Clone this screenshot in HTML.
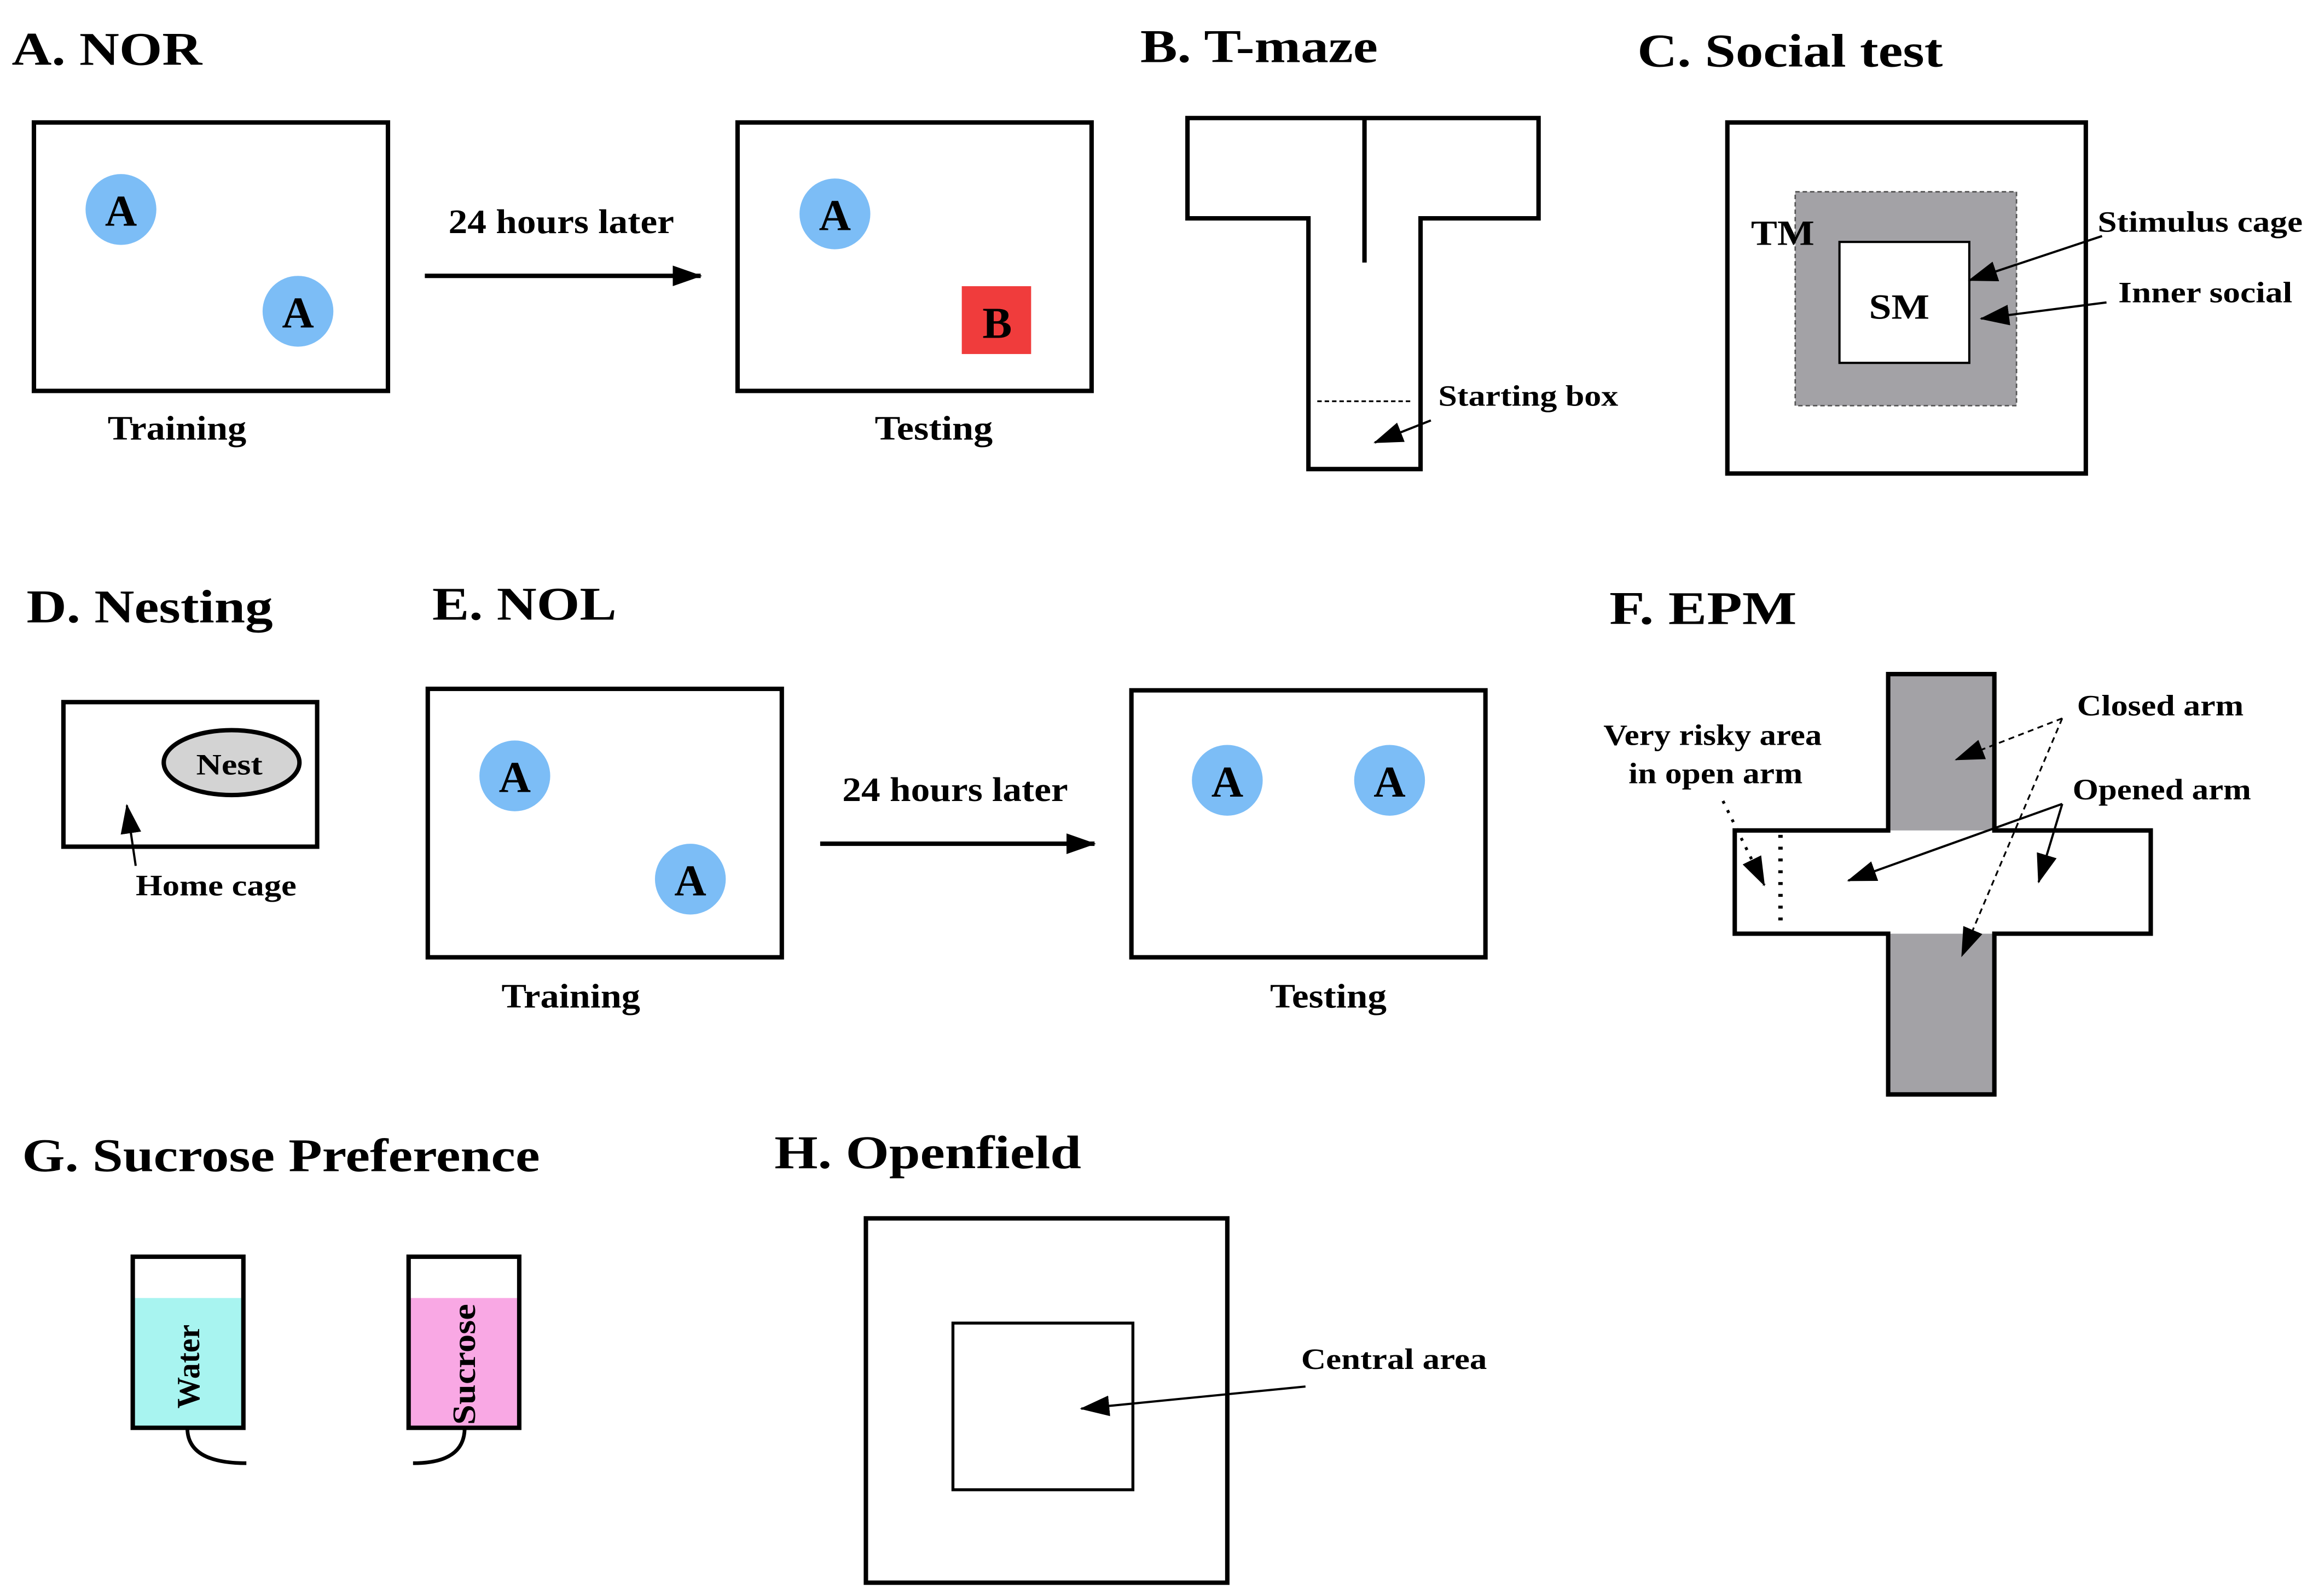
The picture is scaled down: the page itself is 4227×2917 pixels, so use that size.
<!DOCTYPE html>
<html><head><meta charset="utf-8"><style>html,body{margin:0;padding:0;background:#fff}svg{display:block}</style></head><body>
<svg width="4227" height="2917" viewBox="0 0 1568 1082" xmlns="http://www.w3.org/2000/svg" font-family="'Liberation Serif', serif" font-weight="bold">
<defs>
<marker id="ahb" markerWidth="20" markerHeight="14" refX="19" refY="7" orient="auto" markerUnits="userSpaceOnUse"><path d="M0,0 L20,7 L0,14 Z" fill="#000"/></marker>
</defs>
<rect width="1568" height="1082" fill="#fff"/>
<g font-size="32" lengthAdjust="spacingAndGlyphs">
<text x="8" y="44" textLength="129" lengthAdjust="spacingAndGlyphs">A. NOR</text>
<text x="773" y="42" textLength="161" lengthAdjust="spacingAndGlyphs">B. T-maze</text>
<text x="1110" y="45" textLength="207" lengthAdjust="spacingAndGlyphs">C. Social test</text>
<text x="18" y="422" textLength="167" lengthAdjust="spacingAndGlyphs">D. Nesting</text>
<text x="293" y="420" textLength="125" lengthAdjust="spacingAndGlyphs">E. NOL</text>
<text x="1091" y="423" textLength="127" lengthAdjust="spacingAndGlyphs">F. EPM</text>
<text x="15" y="794" textLength="351" lengthAdjust="spacingAndGlyphs">G. Sucrose Preference</text>
<text x="525" y="792" textLength="208" lengthAdjust="spacingAndGlyphs">H. Openfield</text>
</g>
<g fill="none" stroke="#000" stroke-width="3">
<rect x="23" y="83" width="240" height="182"/>
<rect x="500" y="83" width="240" height="182"/>
<rect x="290" y="467" width="240" height="182"/>
<rect x="767" y="468" width="240" height="181"/>
<rect x="43" y="476" width="172" height="98"/>
<rect x="1171" y="83" width="243" height="238"/>
<rect x="587" y="826" width="245" height="247"/>
</g>
<g fill="#7cbdf6">
<circle cx="82" cy="142" r="24"/><circle cx="202" cy="211" r="24"/><circle cx="566" cy="145" r="24"/>
<circle cx="349" cy="526" r="24"/><circle cx="468" cy="596" r="24"/><circle cx="832" cy="529" r="24"/><circle cx="942" cy="529" r="24"/>
</g>
<rect x="652" y="194" width="47" height="46" fill="#f03c3c"/>
<g font-size="30" text-anchor="middle">
<text x="82" y="153">A</text><text x="202" y="222">A</text><text x="566" y="156">A</text><text x="676" y="229">B</text>
<text x="349" y="537">A</text><text x="468" y="607">A</text><text x="832" y="540">A</text><text x="942" y="540">A</text>
</g>
<g font-size="23">
<text x="73" y="298" textLength="94" lengthAdjust="spacingAndGlyphs">Training</text>
<text x="593" y="298" textLength="80" lengthAdjust="spacingAndGlyphs">Testing</text>
<text x="304" y="158" textLength="153" lengthAdjust="spacingAndGlyphs">24 hours later</text>
<text x="571" y="543" textLength="153" lengthAdjust="spacingAndGlyphs">24 hours later</text>
<text x="340" y="683" textLength="94" lengthAdjust="spacingAndGlyphs">Training</text>
<text x="861" y="683" textLength="79" lengthAdjust="spacingAndGlyphs">Testing</text>
</g>
<line x1="288" y1="187" x2="475" y2="187" stroke="#000" stroke-width="3" marker-end="url(#ahb)"/>
<line x1="556" y1="572" x2="742" y2="572" stroke="#000" stroke-width="3" marker-end="url(#ahb)"/>
<!-- T-maze -->
<path d="M805,80 L1043,80 L1043,148 L963,148 L963,318 L887,318 L887,148 L805,148 Z" fill="none" stroke="#000" stroke-width="3"/>
<line x1="925" y1="80" x2="925" y2="178" stroke="#000" stroke-width="3"/>
<line x1="893" y1="272" x2="958" y2="272" stroke="#000" stroke-width="1.2" stroke-dasharray="3,2"/>
<text x="975" y="275" font-size="20" textLength="122" lengthAdjust="spacingAndGlyphs">Starting box</text>
<line x1="970" y1="285" x2="932" y2="300" stroke="#000" stroke-width="1.5" marker-end="url(#ahb)"/>
<!-- Social -->
<rect x="1217" y="130" width="150" height="145" fill="#a3a2a6" stroke="#555" stroke-width="1" stroke-dasharray="3,2"/>
<rect x="1247" y="164" width="88" height="82" fill="#fff" stroke="#000" stroke-width="1.5"/>
<text x="1267" y="216" font-size="24" textLength="41" lengthAdjust="spacingAndGlyphs">SM</text>
<text x="1187" y="166" font-size="24" textLength="43" lengthAdjust="spacingAndGlyphs">TM</text>
<text x="1422" y="157" font-size="20" textLength="139" lengthAdjust="spacingAndGlyphs">Stimulus cage</text>
<text x="1436" y="205" font-size="20" textLength="118" lengthAdjust="spacingAndGlyphs">Inner social</text>
<line x1="1425" y1="160" x2="1335" y2="190" stroke="#000" stroke-width="1.5" marker-end="url(#ahb)"/>
<line x1="1428" y1="205" x2="1343" y2="216" stroke="#000" stroke-width="1.5" marker-end="url(#ahb)"/>
<!-- Nesting -->
<ellipse cx="157" cy="517" rx="46" ry="22" fill="#d3d3d3" stroke="#000" stroke-width="3"/>
<text x="133" y="525" font-size="20" textLength="45" lengthAdjust="spacingAndGlyphs">Nest</text>
<line x1="92" y1="587" x2="86" y2="546" stroke="#000" stroke-width="1.5" marker-end="url(#ahb)"/>
<text x="92" y="607" font-size="20" textLength="109" lengthAdjust="spacingAndGlyphs">Home cage</text>
<!-- EPM -->
<rect x="1280" y="457" width="72" height="285" fill="#a3a2a6"/>
<rect x="1176" y="563" width="282" height="70" fill="#fff"/>
<path d="M1280,457 L1352,457 L1352,563 L1458,563 L1458,633 L1352,633 L1352,742 L1280,742 L1280,633 L1176,633 L1176,563 L1280,563 Z" fill="none" stroke="#000" stroke-width="3"/>
<line x1="1207" y1="566" x2="1207" y2="630" stroke="#000" stroke-width="3" stroke-dasharray="2,6"/>
<g font-size="20">
<text x="1408" y="485" textLength="113" lengthAdjust="spacingAndGlyphs">Closed arm</text>
<text x="1405" y="542" textLength="121" lengthAdjust="spacingAndGlyphs">Opened arm</text>
<text x="1087" y="505" textLength="148" lengthAdjust="spacingAndGlyphs">Very risky area</text>
<text x="1104" y="531" textLength="118" lengthAdjust="spacingAndGlyphs">in open arm</text>
</g>
<line x1="1398" y1="487" x2="1326" y2="515" stroke="#000" stroke-width="1.2" stroke-dasharray="4,3" marker-end="url(#ahb)"/>
<line x1="1398" y1="487" x2="1330" y2="648" stroke="#000" stroke-width="1.2" stroke-dasharray="4,3" marker-end="url(#ahb)"/>
<line x1="1398" y1="545" x2="1253" y2="597" stroke="#000" stroke-width="1.5" marker-end="url(#ahb)"/>
<line x1="1398" y1="545" x2="1382" y2="598" stroke="#000" stroke-width="1.5" marker-end="url(#ahb)"/>
<line x1="1168" y1="543" x2="1196" y2="600" stroke="#000" stroke-width="2" stroke-dasharray="2,5" marker-end="url(#ahb)"/>
<!-- Sucrose -->
<rect x="90" y="880" width="75" height="88" fill="#a8f4f0"/>
<rect x="277" y="880" width="75" height="88" fill="#f9a8e4"/>
<rect x="90" y="852" width="75" height="116" fill="none" stroke="#000" stroke-width="3"/>
<rect x="277" y="852" width="75" height="116" fill="none" stroke="#000" stroke-width="3"/>
<path d="M127,968 Q127,992 167,992" fill="none" stroke="#000" stroke-width="2.5"/>
<path d="M315,968 Q315,992 280,992" fill="none" stroke="#000" stroke-width="2.5"/>
<text transform="translate(135,955) rotate(-90)" font-size="22" textLength="57" lengthAdjust="spacingAndGlyphs">Water</text>
<text transform="translate(322,966) rotate(-90)" font-size="22" textLength="82" lengthAdjust="spacingAndGlyphs">Sucrose</text>
<!-- Openfield -->
<rect x="646" y="897" width="122" height="113" fill="none" stroke="#000" stroke-width="2"/>
<line x1="885" y1="940" x2="733" y2="955" stroke="#000" stroke-width="1.5" marker-end="url(#ahb)"/>
<text x="882" y="928" font-size="20" textLength="126" lengthAdjust="spacingAndGlyphs">Central area</text>
</svg>
</body></html>
